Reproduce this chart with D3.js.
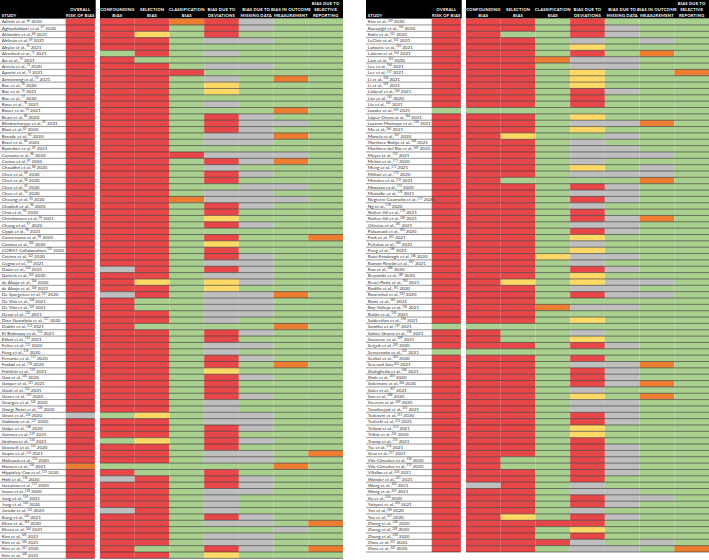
<!DOCTYPE html>
<html><head><meta charset="utf-8">
<script src="https://cdn.jsdelivr.net/npm/d3@7"></script>
<style>body{margin:0;background:#fff}svg{display:block}</style>
</head><body><svg id="c" width="709" height="560"></svg>
<script>
// ---------------- DATA ----------------
const domainHeaders = [
  ["OVERALL","RISK OF BIAS"],
  ["CONFOUNDING","BIAS"],
  ["SELECTION","BIAS"],
  ["CLASSIFICATION","BIAS"],
  ["BIAS DUE TO","DEVIATIONS"],
  ["BIAS DUE TO","MISSING DATA"],
  ["BIAS IN OUTCOME","MEASUREMENT"],
  ["BIAS DUE TO","SELECTIVE","REPORTING"]
];
const studyHeader = "STUDY";

// rating codes: R = red, O = orange, Y = yellow, G = green, N = no information (gray)
const ratingCodes  = ["R","O","Y","G","N"];
const ratingColors = ["#e8474a","#ed7d31","#ffd966","#a9d08e","#bfbfbf"];

const leftStudies = [
"Adrish et al.,|66| 2020","Aghaaliakbari et al.,|67| 2020","Ahlström et al.,|68| 2021","Akihuin et al.,|69| 2021",
"Akyüz et al.,|70| 2021","Alrashed et al.,|71| 2021","An et al.,|72| 2021","Arvela et al.,|73| 2020",
"Aparisi et al.,|74| 2021","Armstrong et al.,|75| 2021","Bae et al.,|76| 2020","Bae et al.,|76| 2021",
"Bae et al.,|77| 2020","Basu et al.,|78| 2021","Bauer et al.,|79| 2021","Bean et al.,|80| 2020",
"Bhattacharyya et al.,|81| 2021","Biasi et al.,|82| 2020","Braude et al.,|83| 2020","Bravi et al.,|84| 2020",
"Byttebier et al.,|85| 2021","Cannata et al.,|86| 2020","Cariou et al.,|87| 2020","Chaudhri et al.,|88| 2020",
"Chen et al.,|89| 2020","Chen et al.,|90| 2020","Chen et al.,|91| 2020","Chen et al.,|92| 2020",
"Cheung et al.,|93| 2020","Chodick et al.,|94| 2020","Choi et al.,|95| 2020","Christiansen et al.,|96| 2021",
"Chung et al.,|97| 2020","Cippà et al.,|98| 2021","Conversano et al.,|99| 2020","Contou et al.,|100| 2020",
"CORIST Collaboration,|101| 2020","Covino et al.,|102| 2020","Cugno et al.,|103| 2021","Dalan et al.,|104| 2021",
"Daniels et al.,|105| 2020","de Abajo et al.,|106| 2020","de Abajo et al.,|106| 2021","De Spiegeleer et al.,|107| 2020",
"De Vito et al.,|108| 2021","De Vito et al.,|109| 2021","Desai et al.,|110| 2021","Diaz-Guardiola et al.,|111| 2020",
"Dublin et al.,|112| 2021","El-Battrawy et al.,|113| 2021","Elibol et al.,|114| 2021","Felice et al.,|115| 2020",
"Feng et al.,|116| 2020","Ferrante et al.,|117| 2020","Fosbøl et al.,|118| 2020","Fröhlich et al.,|119| 2021",
"Gao et al.,|120| 2020","Gasper et al.,|121| 2021","Gault et al.,|122| 2021","Genet et al.,|123| 2020",
"Georges et al.,|124| 2020","Giorgi Rossi et al.,|125| 2020","Gnavi et al.,|126| 2020","Gobbato et al.,|127| 2020",
"Golpe et al.,|128| 2020","Gormez et al.,|129| 2021","Graham et al.,|130| 2021","Grasselli et al.,|131| 2020",
"Gupta et al.,|132| 2021","Hallesam et al.,|133| 2020","Hansen et al.,|134| 2021","Hippisley-Cox et al.,|135| 2020",
"Holt et al.,|136| 2020","Iaccarino et al.,|137| 2020","Imam et al.,|138| 2020","Jung et al.,|139| 2021",
"Jung et al.,|140| 2020","Jurado et al.,|141| 2020","Kang et al.,|142| 2021","Khan et al.,|143| 2020",
"Khera et al.,|144| 2021","Kim et al.,|145| 2021","Kim et al.,|146| 2021","Kim et al.,|147| 2020",
"Kim et al.,|148| 2021"
];
// overall, confounding, selection, classification, deviations, missing data, outcome, selective reporting
const leftRatings = [
"RRRORNGG","RRRGRNGG","RRYGRGGG","RRRGNNGG","RRRGGGGG","RGRGNGGG","RRGGGGGG","RRRGNNGG",
"RRRRGGGG","RRRGNGOG","RRRGYGGG","RRRGYGGG","RRRGGGGG","RRRGNGGG","RRRGGGOG","RRRGRNGG",
"RRRGRNNG","RRRGRNGG","RRRGNNOG","RRRGNNGG","RRRGGGGG","RRRRNNNG","RRRGRNOG","RRRGNGGG",
"RRRGRNGG","RRRGRGGG","RRRGGNNG","RRRGNNGG","RRRONNNG","RRRGRNGG","RRRGRGGG","RRRGYGGG",
"RRRGRNGG","RRRGGGGG","RRRGRGGO","RRRGYGGG","RRRGRGGG","RRRGRNGG","RRRGNNGG","RNRGRNGG",
"RRRGNNGG","RRYGYNGG","RRRGYGGG","RNRGNNOG","RRGGNNGG","RRGGNNGG","RRRGNNGG","RRRGNGGG",
"RRGGGGOG","RRRGRNGG","RRRGRGGG","RRRGNNGG","RRRGNGGG","RRRGRNGG","RRRGRGOG","RRRGYGGG",
"RRRGRNGG","RRRGRGGG","RRRGRGGG","RRRGRNGG","RRRGNGGG","RRRGNGGG","NGYGNNGG","RRRGNNGG",
"RRRGRNGG","RRRGRGGG","RGYGRNGG","RRRGRGGG","RRRGNNGO","RRRGNNGG","OGGGGGOG","RRGGRGGG",
"RNRGRNGG","RRRGRNGG","RRRGNNGG","RRRGNGGG","RRRGNGGG","RNRGNGGG","RRRGRNGG","RRRGNNGO",
"RRRGGGNG","RRRGNNGG","RRRGNNGG","RRGGRNGO","RRRGYGGG"
];

const rightStudies = [
"Kim et al.,|149| 2020","Kocayiğit et al.,|150| 2020","Kolin et al.,|151| 2020","LeClair et al.,|152| 2021",
"Lafaurie et al.,|153| 2021","Lahens et al.,|154| 2021","Lam et al.,|155| 2020","Lee et al.,|156| 2021",
"Lee et al.,|157| 2021","Li et al.,|158| 2021","Li et al.,|159| 2021","Liabeuf et al.,|160| 2021",
"Lim et al.,|161| 2020","Liu et al.,|162| 2021","Loader et al.,|163| 2021","López-Otero et al.,|164| 2021",
"Lozano-Montoya et al.,|165| 2021","Ma et al.,|166| 2021","Mancia et al.,|167| 2020","Martínez-Botija et al.,|168| 2021",
"Martínez-del Río et al.,|169| 2020","Mayer et al.,|170| 2021","Mehta et al.,|171| 2020","Meng et al.,|172| 2021",
"Million et al.,|173| 2020","Morales et al.,|174| 2021","Mostaza et al.,|175| 2020","Mustafic et al.,|176| 2021",
"Negreira-Caamaño et al.,|177| 2020","Ng et al.,|178| 2020","Núñez-Gil et al.,|179| 2021","Núñez-Gil et al.,|180| 2021",
"Oliveira et al.,|181| 2021","Palazzuoli et al.,|182| 2020","Park et al.,|183| 2021","Peñalvo et al.,|184| 2021",
"Peng et al.,|185| 2021","Raisi-Estabragh et al.,|186| 2020","Ramos-Rincón et al.,|187| 2021","Rao et al.,|188| 2020",
"Reynolds et al.,|189| 2020","Rezel-Potts et al.,|190| 2021","Rodilla et al.,|191| 2020","Rosenthal et al.,|192| 2020",
"Rossi et al.,|193| 2021","Roy-Vallejo et al.,|194| 2021","Rubin et al.,|195| 2021","Saldeviñas et al.,|196| 2021",
"Sandhu et al.,|197| 2021","Sahúe-Gracia et al.,|198| 2021","Savarese et al.,|199| 2021","Selçuk et al.,|200| 2020",
"Semenzato et al.,|201| 2021","Senkal et al.,|202| 2020","Seo and Son,|203| 2021","Shahgheibi et al.,|204| 2021",
"Shah et al.,|205| 2020","Soleimani et al.,|206| 2020","Soler et al.,|207| 2021","Son et al.,|208| 2020",
"Stevens et al.,|209| 2020","Tavolinejad et al.,|210| 2021","Tedeschi et al.,|211| 2020","Terlecki et al.,|212| 2021",
"Tetlow et al.,|213| 2021","Trifirò et al.,|214| 2020","Trump et al.,|215| 2021","Tse et al.,|216| 2021",
"Vera et al.,|217| 2021","Vila-Córcoles et al.,|218| 2020","Vila-Córcoles et al.,|219| 2020","Villalba et al.,|220| 2021",
"Wander et al.,|221| 2021","Wang et al.,|222| 2021","Wang et al.,|223| 2021","Xu et al.,|224| 2020",
"Yahyavi et al.,|225| 2021","Yan et al.,|226| 2020","Yan et al.,|227| 2020","Zhong et al.,|228| 2020",
"Zhang et al.,|229| 2020","Zhong et al.,|230| 2020","Zhou et al.,|231| 2020","Zhou et al.,|232| 2020"
];
const rightRatings = [
"RRRGRGGG","RRRGRNGG","RRGGRNGG","RRRGNGNG","RRRGYGGG","RRRGRGOG","RRRONNGG","RRRGNNGG",
"RRRGYGGO","RRRGYGGG","RRRGYGGG","RRRGRNGG","RRRGRGGG","RRRGRGGG","GGGGGGGG","RRRGYGGG",
"RRRGNNOG","RRRGYGGG","RRYGGNGG","RRRGNGGG","RRRGNNGG","RRRGNNNG","RRRGNGGG","RRRGYGNG",
"RRRGNNNG","RRGGGGOG","RRRGRNGG","RRRGNNGG","RRRGRNGG","RRRGNGGG","RRRGRGGG","RRRGRNOG",
"RRRGNNGG","RRRGRNGG","RRRGYGGG","RRRGNGGG","RRRGYGGG","RRRYNNGG","RRRGNGGG","RRRGRNGG",
"RRRGYGGG","RRYGYNNG","RRRGNNGG","RRRGRNNG","RRRGGGGG","RRRONNGG","RRRGGGGG","RRRGYGGG",
"GGGGGGGG","RRGGNGGG","RRGGYGGG","RRRGRNGG","GGGGGGGG","RRRGRGGG","RRRGNNOG","RRRGRNGG",
"RRRGRNGG","RRRGRNOG","RRRGNGGG","RRRGYGOG","RRRGNNGG","RRRGNNGG","RRRGRNGG","RRRGRNGG",
"RRRGYGGG","RRRGYGGG","RRRGRGGG","RRRGRNGG","RRRGRNGG","RRGGRNGG","RRGGRNGG","RRRGRNGG",
"RRRGRGGG","RNRGNGGG","RRRGNNGG","RRRGRNNG","RRRGRNGG","RRRGNGGG","RRYGRNGG","RRRRRGGG",
"RRRGYGGG","RRRGRGGG","RRRRNGNG","RRRGNNGO"
];

// ---------------- LAYOUT ----------------
const svg = d3.select("#c");
const color = d3.scaleOrdinal().domain(ratingCodes).range(ratingColors);
const headerH = 18.6;
const rowH = 6.35;
const maxRows = Math.max(leftStudies.length, rightStudies.length);
const y = d3.scaleBand().domain(d3.range(maxRows)).range([headerH, headerH + maxRows*rowH]).paddingInner(0);

function panel(x0, studies, ratings) {
  const g = svg.append("g").attr("transform", `translate(${x0},0)`);
  const studyW = 65.7, overallW = 29.2, gap = 5.1, detailW = 243;
  const detailX = studyW + overallW + gap;
  const xDetail = d3.scaleBand().domain(d3.range(1, 8)).range([detailX, detailX + detailW]);
  const colX = j => j === 0 ? studyW : xDetail(j);
  const colW = j => j === 0 ? overallW : xDetail.bandwidth();
  const n = studies.length;

  // header blocks
  g.append("rect").attr("x", 0).attr("y", 0).attr("width", studyW + overallW + 0.8).attr("height", headerH).attr("fill", "#000");
  g.append("rect").attr("x", detailX).attr("y", 0).attr("width", detailW).attr("height", headerH).attr("fill", "#000");

  const ht = g.append("g").attr("fill", "#fff").attr("font-family", "Lato, 'Open Sans', sans-serif")
    .attr("font-size", 4.2).attr("font-weight", 700).attr("letter-spacing", 0.2);
  ht.append("text").attr("x", 1.8).attr("y", 16.6).text(studyHeader);
  domainHeaders.forEach((lines, j) => {
    const cx = colX(j) + colW(j) / 2;
    lines.forEach((t, k) => {
      ht.append("text").attr("x", cx).attr("y", 16.6 - (lines.length - 1 - k) * 5.9)
        .attr("text-anchor", "middle").text(t);
    });
  });

  // cells
  const cells = [];
  ratings.forEach((r, i) => r.split("").forEach((c, j) => cells.push({i, j, c})));
  g.append("g").selectAll("rect").data(cells).join("rect")
    .attr("x", d => colX(d.j))
    .attr("y", d => y(d.i))
    .attr("width", d => colW(d.j))
    .attr("height", y.bandwidth())
    .attr("fill", d => color(d.c));

  // row separators
  const sep = g.append("g");
  d3.range(n).forEach(i => {
    const yy = y(i) + y.bandwidth();
    sep.append("line").attr("x1", 0).attr("x2", studyW).attr("y1", yy).attr("y2", yy)
      .attr("stroke", "#8a8a8a").attr("stroke-width", 0.9);
    sep.append("line").attr("x1", studyW).attr("x2", studyW + overallW).attr("y1", yy).attr("y2", yy)
      .attr("stroke", "#333").attr("stroke-opacity", 0.85).attr("stroke-width", 0.75);
    sep.append("line").attr("x1", detailX).attr("x2", detailX + detailW).attr("y1", yy).attr("y2", yy)
      .attr("stroke", "#333").attr("stroke-opacity", 0.85).attr("stroke-width", 0.75);
  });

  // study labels
  const lab = g.append("g").attr("fill", "#333").attr("font-family", "Lato, 'Open Sans', sans-serif").attr("font-size", 4.6);
  studies.forEach((s, i) => {
    const [a, ref, b] = s.split("|");
    const t = lab.append("text").attr("x", 1.8).attr("y", y(i) + 4.8);
    t.append("tspan").text(a);
    t.append("tspan").attr("font-size", 2.9).attr("dy", -1.6).text(ref);
    t.append("tspan").attr("dy", 1.6).text(b);
  });
}

panel(0, leftStudies, leftRatings);
panel(366, rightStudies, rightRatings);
</script>
</body></html>
